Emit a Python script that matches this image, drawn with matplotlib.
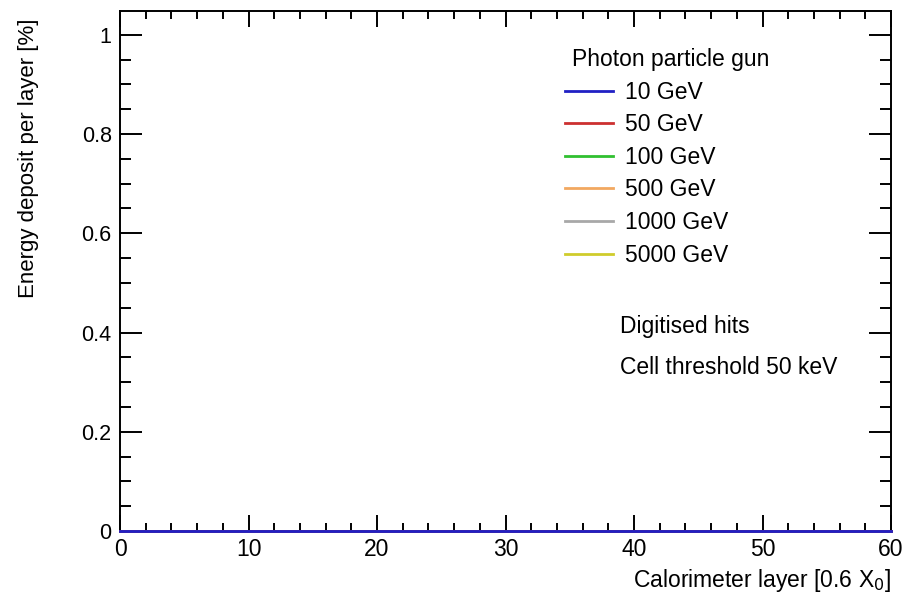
import numpy as np
import matplotlib.pyplot as plt
from matplotlib.ticker import MultipleLocator

plt.rcParams['font.family'] = ['Liberation Sans', 'DejaVu Sans']

# Energy deposit per layer (all zero in the reference)
layers = np.arange(0, 61)
energies = ['10 GeV', '50 GeV', '100 GeV', '500 GeV', '1000 GeV', '5000 GeV']
colors = ['#2020c4', '#cc3030', '#30c030', '#f2a860', '#a8a8a8', '#cfcc2c']
deposit = {e: [0.0] * len(layers) for e in energies}

fig = plt.figure(figsize=(9.06, 5.93), dpi=100)
ax = fig.add_axes([120 / 906, 1 - 531 / 593, 771 / 906, 520 / 593])

# draw in reverse so 10 GeV ends up on top
for e, c in reversed(list(zip(energies, colors))):
    ax.plot(layers, deposit[e], color=c, lw=2, label=e, clip_on=False, zorder=5)

ax.set_xlim(0, 60)
ax.set_ylim(0, 1.048)
ax.xaxis.set_major_locator(MultipleLocator(10))
ax.xaxis.set_minor_locator(MultipleLocator(2))
ax.yaxis.set_minor_locator(MultipleLocator(0.05))
ax.set_yticks([0, 0.2, 0.4, 0.6, 0.8, 1.0])
ax.set_yticklabels(['0', '0.2', '0.4', '0.6', '0.8', '1'])

for s in ax.spines.values():
    s.set_linewidth(1.4)
ax.tick_params(axis='x', which='both', direction='in', top=True, width=1.4, labelsize=16.5, pad=5)
ax.tick_params(axis='x', which='major', length=11.5)
ax.tick_params(axis='x', which='minor', length=5.8)
ax.tick_params(axis='y', which='both', direction='in', right=True, width=1.4, labelsize=15.5, pad=6)
ax.tick_params(axis='y', which='major', length=15.8)
ax.tick_params(axis='y', which='minor', length=8)

ax.set_xlabel(r'Calorimeter layer [0.6 X$_0$]', fontsize=16.5, loc='right', labelpad=4)
ax.set_ylabel('Energy deposit per layer [%]', fontsize=16, loc='top', labelpad=36)
ax.yaxis.set_label_coords(-0.105, 0.985)

handles, labels = ax.get_legend_handles_labels()
leg = ax.legend(handles[::-1], labels[::-1], loc='upper left',
                bbox_to_anchor=(565 / 906, 1 - 48 / 593), bbox_transform=fig.transFigure,
                frameon=False, fontsize=16.5, handlelength=2.1, handletextpad=0.5,
                labelspacing=0.42, borderpad=0, borderaxespad=0,
                title='Photon particle gun', title_fontsize=16.5, alignment='left')
leg.get_title().set_position((7, 0))

fig.text(620 / 906, 1 - 327 / 593, 'Digitised hits', fontsize=16.5, va='center')
fig.text(620 / 906, 1 - 367 / 593, 'Cell threshold 50 keV', fontsize=16.5, va='center')

fig.savefig('out.png', dpi=100)
